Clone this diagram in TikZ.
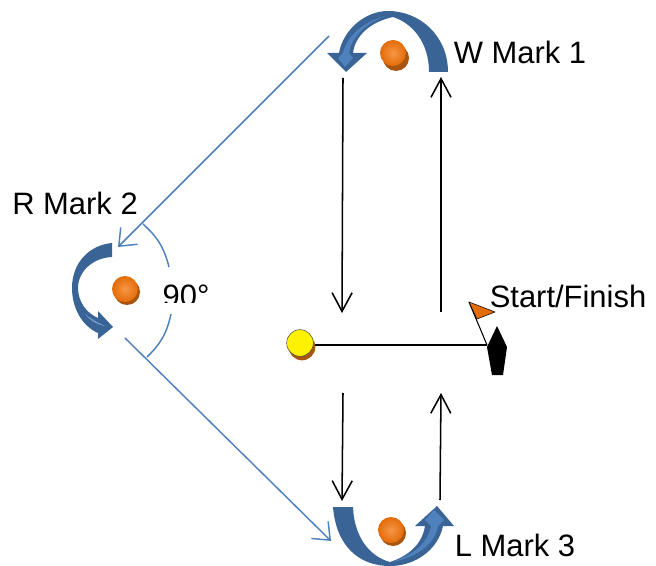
\documentclass[tikz,border=0pt]{standalone}
\usepackage{fontspec}
\setmainfont{Liberation Sans}
\usetikzlibrary{arrows.meta}
\definecolor{bDark}{HTML}{3A6496}
\definecolor{bLight}{HTML}{4F81BD}
\definecolor{mOrange}{HTML}{E36C09}
\definecolor{mLight}{HTML}{F79646}
\definecolor{mShadow}{HTML}{A9540F}
\tikzstyle{mS}=[circle,minimum size = 19.5pt,inner sep = 0pt,inner color=mLight,outer color=mOrange]
\tikzstyle{mSh}=[circle,minimum size = 19.5pt,inner sep = 0pt,fill=mShadow]
\tikzstyle{tS}=[inner sep = 0pt, font=\fontsize{23.2}{23.2}\selectfont,text=black]
\tikzstyle{eBlack}=[line width=1.15pt,draw=black,-{Straight Barb[length=14pt,width=15pt]}]
\tikzstyle{eBlue}=[line width=1.1pt,draw=bLight,-{Straight Barb[length=11pt,width=18pt]}]
\tikzstyle{eArc}=[line width=1.1pt,draw=bLight]
\begin{document}
\begin{tikzpicture}[x=0.75pt,y=-0.75pt]
                \useasboundingbox (0,0) rectangle (656,566);
                % start line, drawn under the pin
                \coordinate (st) at (305,345);
                \coordinate (bow) at (487,345);
                \coordinate (top) at (469,302);
                \draw[line width=1.4pt] (st) -- (bow);
                % marks
                \draw (396,58) node[mSh] (s1) {};
                \draw (393,53) node[mS] (m1) {};
                \draw (127,292) node[mSh] (s2) {};
                \draw (125,289) node[mS] (m2) {};
                \draw (393,533) node[mSh] (s3) {};
                \draw (391,530) node[mS] (m3) {};
                \draw (302,347) node[mSh,minimum size=20pt] (s0) {};
                \draw (300,343) node[circle,inner sep=0pt,minimum size=20pt,fill=yellow,draw=black!70,line width=0.4pt] (pin) {};
                % turning arrows
                \fill[bDark] (448,72) -- (429,72) .. controls (429,42) and (412,23) .. (393,17)
                    .. controls (370,22) and (355,36) .. (353,53) -- (367,53) -- (346,72) -- (327,53) -- (339,53)
                    .. controls (343,30) and (365,11) .. (388,11) .. controls (420,11) and (448,36) .. cycle;
                \fill[bLight] (345,67) -- (353,58) -- (349,53) .. controls (351,38) and (365,24) .. (385,16)
                    .. controls (363,22) and (347,36) .. (343,53) -- (338,58) -- cycle;
                \fill[bDark] (112,243) -- (112,257) .. controls (92,258) and (78,272) .. (78,288)
                    .. controls (78,301) and (86,313) .. (98,318) -- (98,311) -- (113,327) -- (98,339) -- (98,333)
                    .. controls (82,326) and (72,308) .. (72,288) .. controls (72,262) and (90,245) .. cycle;
                \fill[bLight!80!white] (85,314) .. controls (90,321) and (98,325) .. (105,326) .. controls (97,322) and (91,319) .. cycle;
                \fill[bDark] (333,507) -- (353,507) .. controls (354,535) and (368,556) .. (390,562)
                    .. controls (408,556) and (422,545) .. (425,526) -- (415,526) -- (437,506) -- (454,526) -- (443,526)
                    .. controls (438,550) and (415,566) .. (390,566) .. controls (358,566) and (336,545) .. cycle;
                \fill[bLight] (434,510) -- (425,520) -- (431,526) .. controls (428,545) and (410,556) .. (392,562)
                    .. controls (415,558) and (435,545) .. (438,526) -- (444,520) -- cycle;
                % course
                \coordinate (c1a) at (343,78);
                \coordinate (c1b) at (342,313);
                \coordinate (c2a) at (441,312);
                \coordinate (c2b) at (441,77);
                \coordinate (c3a) at (343,393);
                \coordinate (c3b) at (342,501);
                \coordinate (c4a) at (440,500);
                \coordinate (c4b) at (441,393);
                \coordinate (bl1) at (329,36);
                \coordinate (bl2) at (118,247);
                \coordinate (bl3) at (125,338);
                \coordinate (bl4) at (331,541);
                \coordinate (a1) at (143,224);
                \coordinate (a2) at (169,267);
                \coordinate (a3) at (171,314);
                \coordinate (a4) at (147,357);
                \path
                    (c1a) edge[eBlack] (c1b)
                    (c2a) edge[eBlack] (c2b)
                    (c3a) edge[eBlack] (c3b)
                    (c4a) edge[eBlack] (c4b)
                    (bl1) edge[eBlue] (bl2)
                    (bl3) edge[eBlue] (bl4)
                ;
                \draw[eArc] (a1) to[bend left=17] (a2);
                \draw[eArc] (a3) to[bend left=17] (a4);
                % boat and flag
                \fill[black] (497,326) -- (507,347) -- (503,375) -- (492,375) -- (487,347) -- cycle;
                \draw[line width=0.8pt] (bow) -- (top);
                \draw[fill=mOrange,line width=0.4pt] (top) -- (495,312) -- (477,319) -- cycle;
                % labels
                \draw (520,52.5) node[tS] (l1) {W Mark 1};
                \draw (75,203.5) node[tS] (l2) {R Mark 2};
                \draw (515,545) node[tS] (l3) {L Mark 3};
                \draw (568,296.5) node[tS] (l0) {Start/Finish};
                \begin{scope}
                    \clip (150,270) rectangle (230,303);
                    \draw (186,296) node[tS] (ang) {90°};
                \end{scope}
        \end{tikzpicture}
\end{document}
